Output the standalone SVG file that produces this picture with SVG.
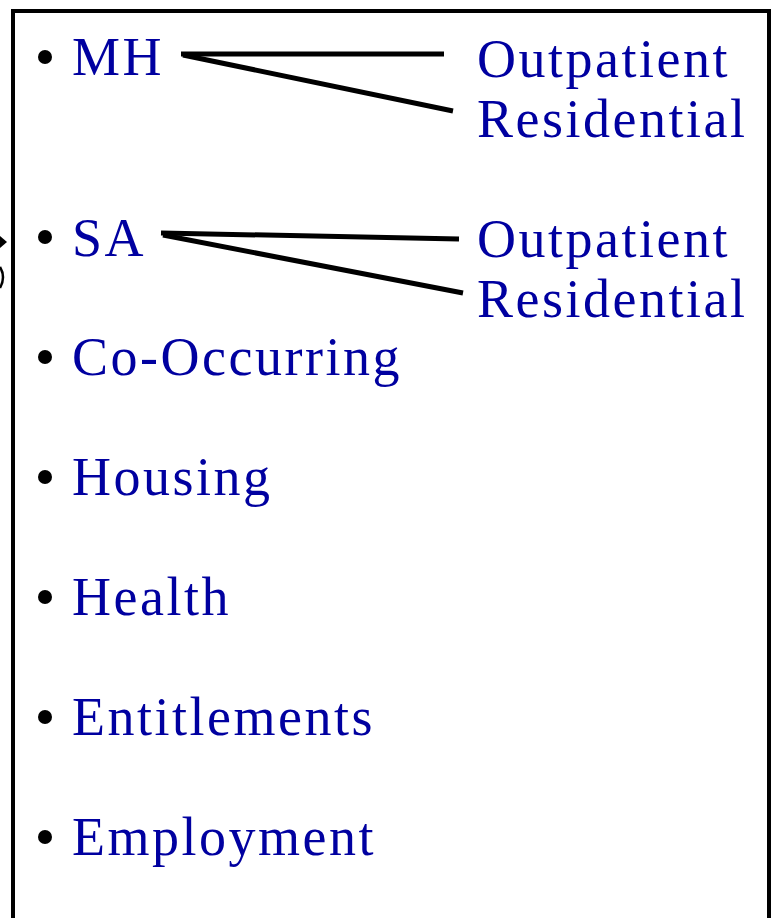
<svg xmlns="http://www.w3.org/2000/svg" width="773" height="918" viewBox="0 0 773 918">
<style>
.t{font-family:"Liberation Serif","Times New Roman",serif;font-size:54px;fill:#0000A0;letter-spacing:2.5px}
.b{fill:#000}
.c{stroke:#000;stroke-width:5;fill:none;stroke-linecap:butt}
</style>
<rect width="773" height="918" fill="#fff"/>
<g id="frame">
<rect x="13" y="11" width="756" height="930" fill="none" stroke="#000" stroke-width="4"/>
<polygon points="0,236 7,242 0,248" fill="#000"/>
<path d="M0,267 Q6,277 0,288" fill="none" stroke="#000" stroke-width="2.5"/>
</g>
<g id="connectors">
<line class="c" x1="181" y1="54" x2="444" y2="54"/>
<line class="c" x1="183" y1="55" x2="453" y2="111"/>
<line class="c" x1="161" y1="233" x2="459" y2="239"/>
<line class="c" x1="163" y1="235" x2="463" y2="293"/>
</g>
<g id="mh"><circle class="b" cx="45" cy="57" r="7"/><text class="t" x="72" y="75">MH</text></g>
<g id="mh-out"><text class="t" x="477" y="77">Outpatient</text></g>
<g id="mh-res"><text class="t" x="477" y="137">Residential</text></g>
<g id="sa"><circle class="b" cx="45" cy="237" r="7"/><text class="t" x="72" y="256">SA</text></g>
<g id="sa-out"><text class="t" x="477" y="257">Outpatient</text></g>
<g id="sa-res"><text class="t" x="477" y="317">Residential</text></g>
<g id="co"><circle class="b" cx="45" cy="357" r="7"/><text class="t" x="72" y="375">Co-Occurring</text></g>
<g id="housing"><circle class="b" cx="45" cy="477" r="7"/><text class="t" x="72" y="495">Housing</text></g>
<g id="health"><circle class="b" cx="45" cy="597" r="7"/><text class="t" x="72" y="615">Health</text></g>
<g id="entitlements"><circle class="b" cx="45" cy="717" r="7"/><text class="t" x="72" y="735">Entitlements</text></g>
<g id="employment"><circle class="b" cx="45" cy="837" r="7"/><text class="t" x="72" y="855">Employment</text></g>
</svg>
